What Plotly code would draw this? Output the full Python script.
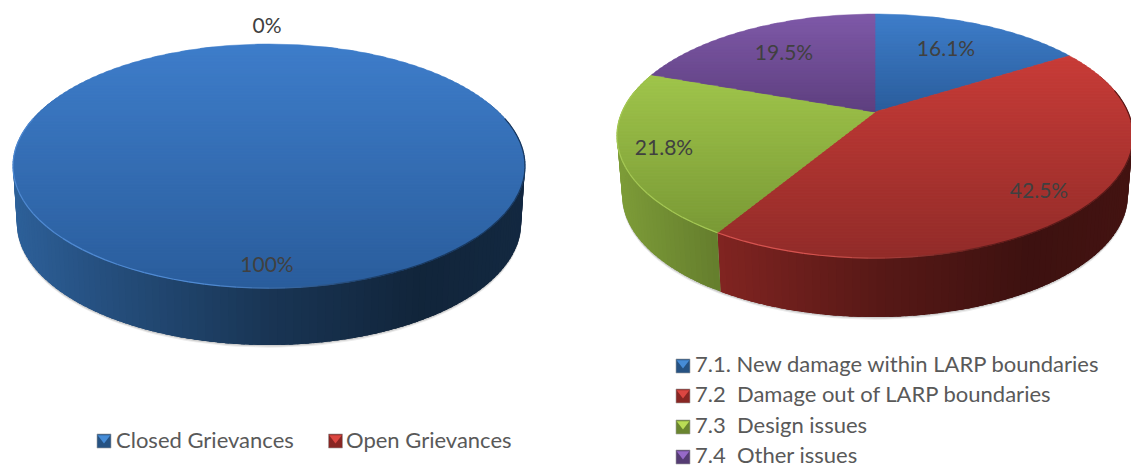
import math
import plotly.graph_objects as go

# ---- data ----
left_categories = ["Closed Grievances", "Open Grievances"]
left_values = [100, 0]
left_labels = ["100%", "0%"]

right_categories = ["7.1. New damage within LARP boundaries", "7.2\u00a0 Damage out of LARP boundaries",
                    "7.3\u00a0 Design issues", "7.4\u00a0 Other issues"]
right_values = [16.1, 42.5, 21.8, 19.5]
right_labels = ["16.1%", "42.5%", "21.8%", "19.5%"]

# ---- style / layout ----
W, H = 1131, 466
FONT = "Lato"
LABEL_COLOR = "#404040"
LEGEND_COLOR = "#595959"
SLICE_STYLE = {
    "blue": dict(hi=(62, 125, 202), lo=(42, 93, 156), wall=(45, 96, 153), rim=(80, 138, 210), glyph=(70, 140, 215)),
    "red": dict(hi=(200, 60, 56), lo=(146, 44, 41), wall=(160, 45, 41), rim=(214, 84, 80), glyph=(220, 70, 65)),
    "green": dict(hi=(160, 197, 75), lo=(122, 154, 54), wall=(125, 156, 56), rim=(165, 200, 85), glyph=(185, 220, 85)),
    "purple": dict(hi=(127, 89, 168), lo=(94, 63, 127), wall=(100, 70, 135), rim=(150, 115, 190), glyph=(150, 105, 200)),
}
LEFT_PIE = dict(cx=269, cy=142, R=251, Rk=117.3, p=0.197, depth=57, shrink=0.985, styles=["blue", "red"])
RIGHT_PIE = dict(cx=875, cy=112, R=253, Rk=117.3, p=0.197, depth=59, shrink=0.98,
                 styles=["blue", "red", "green", "purple"])
LEFT_LABEL_XY = [(267, 267), (267, 28)]
RIGHT_LABEL_XY = [(946, 51), (1039, 193), (664, 150), (784, 55)]
LEFT_LEGEND_XY = [(104, 441), (335.5, 441)]
LEFT_LEGEND_TEXT_X = [116, 346]
LEFT_LEGEND_TEXT_Y = 442
RIGHT_LEGEND_X, RIGHT_LEGEND_TEXT_X = 683, 695
RIGHT_LEGEND_Y = [366, 396, 427, 457]
RIGHT_LEGEND_TEXT_Y = [366, 396, 427, 457]
BAND = 3
STEP = 1.5


def mix(a, b, t):
    return tuple(a[i] + (b[i] - a[i]) * t for i in range(3))


def rgb(c):
    return "rgb(%d,%d,%d)" % tuple(round(x) for x in c)


def shade(t):
    stops = [(0, 1.0), (0.2, 0.8), (0.5, 0.55), (0.8, 0.38), (1, 0.42)]
    for (a, va), (b, vb) in zip(stops, stops[1:]):
        if t <= b:
            return va + (vb - va) * (t - a) / (b - a)
    return stops[-1][1]


def project(pie, deg, dy=0.0, xs=1.0):
    a = math.radians(deg)
    u, v = math.sin(a), -math.cos(a)
    s = 1 / (1 - pie["p"] * v)
    return pie["cx"] + pie["R"] * u * s * xs, pie["cy"] + pie["Rk"] * v * s + dy


def clip(poly, y0, keep_above):
    out = []
    n = len(poly)
    for i in range(n):
        p, q = poly[i], poly[(i + 1) % n]
        ip = p[1] <= y0 if keep_above else p[1] >= y0
        iq = q[1] <= y0 if keep_above else q[1] >= y0
        if ip:
            out.append(p)
        if ip != iq:
            t = (y0 - p[1]) / (q[1] - p[1])
            out.append((p[0] + (q[0] - p[0]) * t, y0))
    return out


fig = go.Figure()


def poly_trace(pts, color, lw=0.0):
    fig.add_trace(go.Scatter(
        x=[p[0] for p in pts] + [pts[0][0]], y=[p[1] for p in pts] + [pts[0][1]],
        mode="lines", fill="toself", fillcolor=color,
        line=dict(color=color, width=lw),
        hoverinfo="skip", showlegend=False))


def draw_pie(pie, values):
    total = sum(values)
    spans = []
    start = 0.0
    for val, style in zip(values, pie["styles"]):
        end = start + 360.0 * val / total
        if end > start:
            spans.append((start, end, SLICE_STYLE[style]))
        start = end

    ring = [i * 2.0 for i in range(180)]
    # soft shadow under the wall
    for off, col in ((2.6, "#ececec"), (1.5, "#cfcfcf")):
        poly_trace([project(pie, d, pie["depth"] + off, pie["shrink"]) for d in ring], col)

    x_left = pie["cx"] - pie["R"] * 1.02
    width = pie["R"] * 2.04
    # wall, front half only; each strip overlaps the next so no seams show
    for a0, a1, st in spans:
        n = max(1, int((a1 - a0) / STEP))
        for i in range(n):
            d0 = a0 + (a1 - a0) * i / n
            d1 = a0 + (a1 - a0) * (i + 1) / n
            if math.cos(math.radians((d0 + d1) / 2)) > 0.35:
                continue
            d2 = min(a1, d1 + STEP * 1.5)
            arc = [d0, d1, d2]
            xm = project(pie, (d0 + d1) / 2)[0]
            f = shade(min(1, max(0, (xm - x_left) / width)))
            poly_trace([project(pie, d) for d in arc] +
                       [project(pie, d, pie["depth"], pie["shrink"]) for d in reversed(arc)],
                       rgb(tuple(c * f for c in st["wall"])))
    # top surface: vertical gradient in overlapping bands, per slice
    for a0, a1, st in spans:
        n = max(2, int((a1 - a0) / 1.0))
        arc = [project(pie, a0 + (a1 - a0) * i / n) for i in range(n + 1)]
        poly = arc if a1 - a0 >= 360 else [(pie["cx"], pie["cy"])] + arc
        ytop = min(p[1] for p in poly)
        ybot = max(p[1] for p in poly)
        y = ytop
        while y < ybot:
            part = clip(clip(poly, y, False), y + BAND + 1.5, True)
            if len(part) > 2:
                t = (y + BAND / 2 - ytop) / (ybot - ytop)
                poly_trace(part, rgb(mix(st["hi"], st["lo"], t)), 0.5)
            y += BAND
    # bevel highlight on the front rim
    for a0, a1, st in spans:
        n = max(1, int((a1 - a0) / 3))
        for i in range(n):
            d0, d1 = a0 + (a1 - a0) * i / n, a0 + (a1 - a0) * (i + 1) / n
            dm = (d0 + d1) / 2
            if math.cos(math.radians(dm)) > 0.2:
                continue
            p0, p1 = project(pie, d0), project(pie, d1)
            t = (p0[0] - x_left) / width
            col = mix(st["rim"], tuple(c * 0.6 for c in st["lo"]), max(0, min(1, (t - 0.4) / 0.35)))
            fig.add_trace(go.Scatter(x=[p0[0], p1[0]], y=[p0[1], p1[1]], mode="lines",
                                     line=dict(color=rgb(col), width=1.2),
                                     hoverinfo="skip", showlegend=False))


def draw_labels(labels, xy):
    fig.add_trace(go.Scatter(
        x=[p[0] for p in xy], y=[p[1] for p in xy], text=labels, mode="text",
        textposition="middle center",
        textfont=dict(family=FONT, size=21, color=LABEL_COLOR),
        hoverinfo="skip", showlegend=False))


def draw_legend(names, styles, sx, sy, tx, ty):
    for name, style, x, y, xt, yt in zip(names, styles, sx, sy, tx, ty):
        st = SLICE_STYLE[style]
        fig.add_trace(go.Scatter(
            x=[x], y=[y], mode="markers",
            marker=dict(symbol="square", size=14, color=rgb(tuple(c * 0.85 for c in st["wall"])),
                        line=dict(color="#a0a0a0", width=0.6)),
            hoverinfo="skip", showlegend=False))
        fig.add_trace(go.Scatter(
            x=[x], y=[y - 3], mode="markers",
            marker=dict(symbol="triangle-down", size=11, color=rgb(st["glyph"]), line=dict(width=0)),
            hoverinfo="skip", showlegend=False))
        fig.add_trace(go.Scatter(
            x=[xt], y=[yt], text=[name], mode="text", textposition="middle right",
            textfont=dict(family=FONT, size=22, color=LEGEND_COLOR),
            hoverinfo="skip", showlegend=False))


draw_pie(LEFT_PIE, left_values)
draw_pie(RIGHT_PIE, right_values)
draw_labels(left_labels, LEFT_LABEL_XY)
draw_labels(right_labels, RIGHT_LABEL_XY)
draw_legend(left_categories, LEFT_PIE["styles"],
            [p[0] for p in LEFT_LEGEND_XY], [p[1] for p in LEFT_LEGEND_XY],
            LEFT_LEGEND_TEXT_X, [LEFT_LEGEND_TEXT_Y] * 2)
draw_legend(right_categories, RIGHT_PIE["styles"],
            [RIGHT_LEGEND_X] * 4, RIGHT_LEGEND_Y, [RIGHT_LEGEND_TEXT_X] * 4, RIGHT_LEGEND_TEXT_Y)

fig.update_layout(
    width=W, height=H, margin=dict(l=0, r=0, t=0, b=0),
    paper_bgcolor="white", plot_bgcolor="white", showlegend=False,
    xaxis=dict(range=[0, W], visible=False, fixedrange=True),
    yaxis=dict(range=[H, 0], visible=False, fixedrange=True),
)
fig.write_html("out.html", config=dict(displayModeBar=False),
               post_script="document.body.style.margin='0';document.documentElement.style.overflow='hidden';")
